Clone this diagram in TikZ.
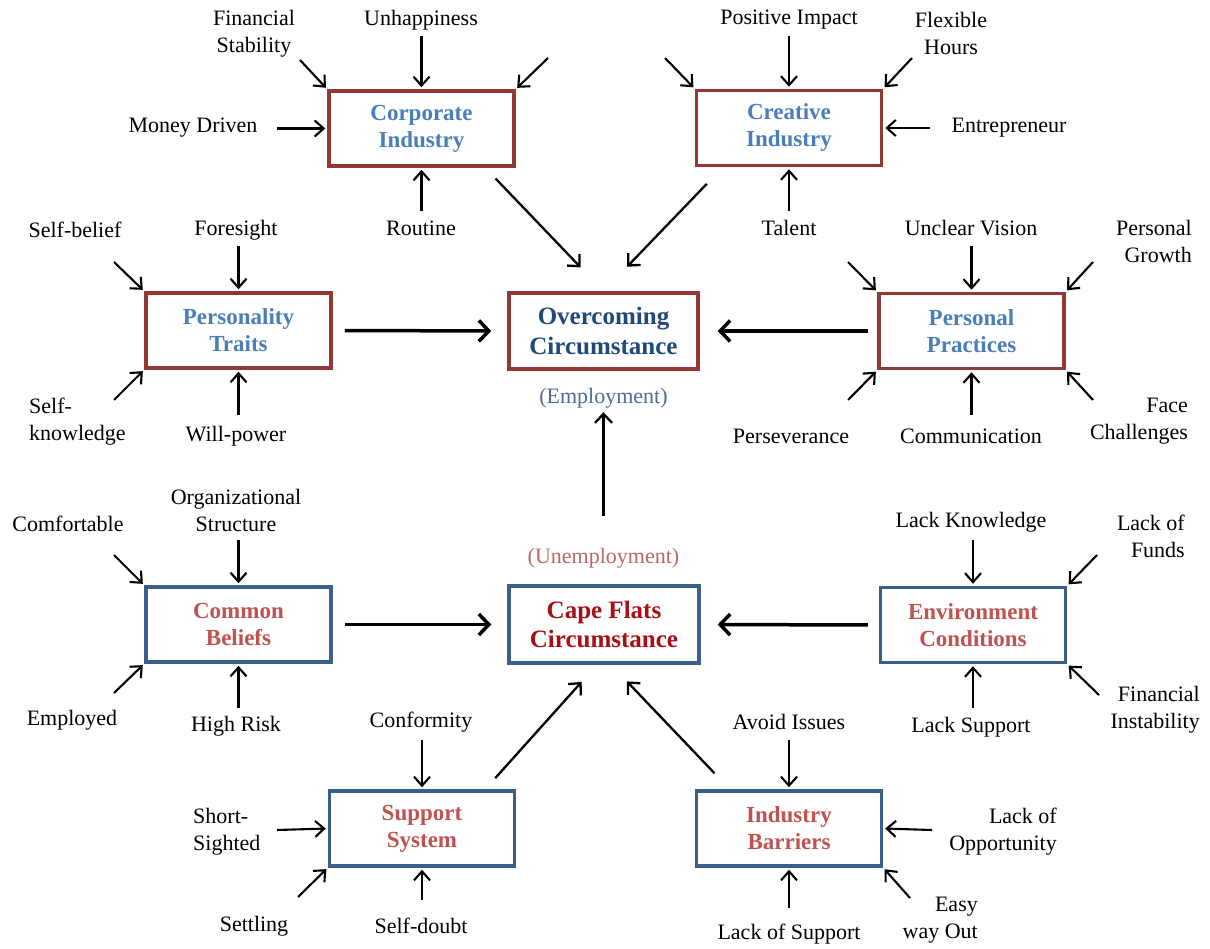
\documentclass[tikz,border=0pt]{standalone}
\usepackage{fontspec}
\setmainfont{Liberation Serif}
\usetikzlibrary{arrows.meta,calc}

\definecolor{topborder}{RGB}{149,55,53}
\definecolor{toptext}{RGB}{74,126,187}
\definecolor{botborder}{RGB}{60,94,138}
\definecolor{bottext}{RGB}{192,82,80}
\definecolor{overtext}{RGB}{31,73,125}
\definecolor{capetext}{RGB}{168,14,20}
\definecolor{emptext}{RGB}{78,108,150}
\definecolor{unemptext}{RGB}{188,104,104}

\newcommand\lblfont{\fontsize{22}{27}\selectfont}
\newcommand\boxfont{\fontsize{23}{27}\selectfont}
\newcommand\bigfont{\fontsize{25}{29.5}\selectfont}

\tikzset{
  lbl/.style={inner sep=0pt, font=\lblfont, align=center},
  boxbase/.style={line width=3.5pt, minimum width=185pt, minimum height=75pt,
    inner sep=0pt, align=center, font=\boxfont\bfseries},
  topbox/.style={boxbase, draw=topborder, text=toptext},
  botbox/.style={boxbase, draw=botborder, text=bottext},
  pa/.style={line width=2.1pt, -{Straight Barb[length=9pt,width=16pt,line width=2.1pt]}, shorten >=2pt},
  ma/.style={line width=3.5pt, -{Straight Barb[length=10pt,width=21pt,line width=3.5pt]}},
  da/.style={line width=2.3pt, -{Straight Barb[length=9pt,width=17pt,line width=2.3pt]}}
}

\begin{document}
\begin{tikzpicture}[x=1pt,y=-1pt]
\useasboundingbox[fill=white] (0,0) rectangle (1210,949);

% ---------- central boxes ----------
\node[boxbase, draw=topborder, text=overtext, font=\bigfont\bfseries,
      minimum width=189pt, minimum height=76pt] (oc) at (603.5,331) {Overcoming\\Circumstance};
\node[lbl, text=emptext] (emp) at (603.5,398) {(Employment)};
\node[boxbase, draw=botborder, text=capetext, font=\bigfont\bfseries,
      minimum width=190pt, minimum height=77pt] (cf) at (604,624.5) {Cape Flats\\Circumstance};
\node[lbl, text=unemptext] (unemp) at (603.5,558) {(Unemployment)};

% ---------- surrounding boxes ----------
\node[topbox] (ci) at (421.5,128.5) {Corporate\\Industry};
\node[topbox] (cr) at (789,128) {Creative\\Industry};
\node[topbox] (pt) at (238.5,330.5) {Personality\\Traits};
\node[topbox] (pp) at (971.5,331) {Personal\\Practices};
\node[botbox] (cb) at (238.5,624.5) {Common\\Beliefs};
\node[botbox] (ec) at (973,625) {Environment\\Conditions};
\node[botbox] (ss) at (422,828.5) {Support\\System};
\node[botbox] (ib) at (789,828.5) {Industry\\Barriers};

% ---------- links between the boxes ----------
\draw[ma, shorten <=12pt, shorten >=16pt] (pt.east) -- (oc.west);
\draw[ma, shorten <=9pt, shorten >=18pt] (pp.west) -- (oc.east);
\draw[ma, shorten <=12pt, shorten >=16pt] (cb.east) -- (cf.west);
\draw[ma, shorten <=11pt, shorten >=17pt] (ec.west) -- (cf.east);
\draw[da, shorten <=15pt, shorten >=33pt] ($(ci.south west)+(158,0)$) -- (oc.north);
\draw[da, shorten <=23pt, shorten >=34pt] ($(cr.south west)+(28,0)$) -- (oc.north);
\draw[da, shorten <=15pt, shorten >=23pt] ($(ss.north east)+(-31,0)$) -- ($(cf.south)+(-7,0)$);
\draw[da, shorten <=22pt, shorten >=23pt] ($(ib.north west)+(35,0)$) -- ($(cf.south)+(7,0)$);
\draw[da, shorten <=32pt, shorten >=4pt] (unemp.north) -- (emp.south);

% ---------- Corporate Industry ----------
\node[lbl] (fs) at (254,33.5) {Financial\\Stability};
\node[lbl] (unh) at (421,20) {Unhappiness};
\node[lbl] (md) at (193,128) {Money Driven};
\node[lbl] (rt) at (421,228) {Routine};
\coordinate (fs-t) at (300,60);
\coordinate (unh-t) at (421.5,36);
\coordinate (ci-ur) at (548,58);
\coordinate (md-t) at (277,128.5);
\coordinate (rt-t) at (421.5,211);
\draw[pa] (fs-t) -- (ci.north west);
\draw[pa] (unh-t) -- (ci.north);
\draw[pa] (ci-ur) -- (ci.north east);
\draw[pa] (md-t) -- (ci.west);
\draw[pa] (rt-t) -- (ci.south);

% ---------- Creative Industry ----------
\node[lbl] (pi) at (789,20) {Positive Impact};
\node[lbl] (fh) at (951,33.5) {Flexible\\Hours};
\node[lbl] (en) at (1009,128) {Entrepreneur};
\node[lbl] (ta) at (789,228) {Talent};
\coordinate (cr-ul) at (665,58);
\coordinate (pi-t) at (789,36);
\coordinate (fh-t) at (912,58);
\coordinate (en-t) at (930,128);
\coordinate (ta-t) at (789,211);
\draw[pa] (cr-ul) -- (cr.north west);
\draw[pa] (pi-t) -- (cr.north);
\draw[pa] (fh-t) -- (cr.north east);
\draw[pa] (en-t) -- (cr.east);
\draw[pa] (ta-t) -- (cr.south);

% ---------- Personality Traits ----------
\node[lbl] (sb) at (75,230) {Self-belief};
\node[lbl] (fo) at (236,230) {Foresight};
\node[lbl, anchor=west, align=left] (sk) at (29,421.5) {Self-\\knowledge};
\node[lbl] (wp) at (236,436) {Will-power};
\coordinate (sb-t) at (114,262);
\coordinate (fo-t) at (238.5,246);
\coordinate (sk-t) at (114,400);
\coordinate (wp-t) at (238.5,415);
\draw[pa] (sb-t) -- (pt.north west);
\draw[pa] (fo-t) -- (pt.north);
\draw[pa] (sk-t) -- (pt.south west);
\draw[pa] (wp-t) -- (pt.south);

% ---------- Personal Practices ----------
\node[lbl] (uv) at (971,228) {Unclear Vision};
\node[lbl, anchor=east, align=right] (pg) at (1192,241.5) {Personal\\Growth};
\node[lbl] (ps) at (791,436) {Perseverance};
\node[lbl] (cm) at (971,436) {Communication};
\node[lbl, anchor=east, align=right] (fc) at (1188,421.5) {Face\\Challenges};
\coordinate (pp-ul) at (848,262);
\coordinate (uv-t) at (971.5,246);
\coordinate (pg-t) at (1093,262);
\coordinate (ps-t) at (848,400);
\coordinate (cm-t) at (971.5,415);
\coordinate (fc-t) at (1093,400);
\draw[pa] (pp-ul) -- (pp.north west);
\draw[pa] (uv-t) -- (pp.north);
\draw[pa] (pg-t) -- (pp.north east);
\draw[pa] (ps-t) -- (pp.south west);
\draw[pa] (cm-t) -- (pp.south);
\draw[pa] (fc-t) -- (pp.south east);

% ---------- Common Beliefs ----------
\node[lbl] (cft) at (68,524) {Comfortable};
\node[lbl] (os) at (236,510) {Organizational\\Structure};
\node[lbl] (em) at (72,720) {Employed};
\node[lbl] (hr) at (236,726) {High Risk};
\coordinate (cft-t) at (114,555);
\coordinate (os-t) at (238.5,540);
\coordinate (em-t) at (114,693);
\coordinate (hr-t) at (238.5,708);
\draw[pa] (cft-t) -- (cb.north west);
\draw[pa] (os-t) -- (cb.north);
\draw[pa] (em-t) -- (cb.south west);
\draw[pa] (hr-t) -- (cb.south);

% ---------- Environment Conditions ----------
\node[lbl] (lk) at (971,522) {Lack Knowledge};
\node[lbl, anchor=east, align=right] (lf) at (1185,536) {Lack of\\Funds};
\node[lbl] (lsp) at (971,727) {Lack Support};
\node[lbl, anchor=east, align=right] (fi) at (1200,710) {Financial\\Instability};
\coordinate (lk-t) at (973,540);
\coordinate (lf-t) at (1097,555);
\coordinate (lsp-t) at (973,708);
\coordinate (fi-t) at (1099,695);
\draw[pa] (lk-t) -- (ec.north);
\draw[pa] (lf-t) -- (ec.north east);
\draw[pa] (lsp-t) -- (ec.south);
\draw[pa] (fi-t) -- (ec.south east);

% ---------- Support System ----------
\node[lbl] (cn) at (421,722) {Conformity};
\node[lbl, anchor=west, align=left] (sh) at (193,832) {Short-\\Sighted};
\node[lbl] (se) at (254,926) {Settling};
\node[lbl] (sd) at (421,926) {Self-doubt};
\coordinate (cn-t) at (422,740);
\coordinate (sh-t) at (277,830);
\coordinate (se-t) at (298,897);
\coordinate (sd-t) at (422,900);
\draw[pa] (cn-t) -- (ss.north);
\draw[pa] (sh-t) -- (ss.west);
\draw[pa] (se-t) -- (ss.south west);
\draw[pa] (sd-t) -- (ss.south);

% ---------- Industry Barriers ----------
\node[lbl] (ai) at (789,722) {Avoid Issues};
\node[lbl, anchor=east, align=right] (lo) at (1057,832) {Lack of\\Opportunity};
\node[lbl] (los) at (789,934) {Lack of Support};
\node[lbl, anchor=east, align=right] (ew) at (978,920) {Easy\\way Out};
\coordinate (ai-t) at (789,740);
\coordinate (lo-t) at (932,830);
\coordinate (los-t) at (789,908);
\coordinate (ew-t) at (910,898);
\draw[pa] (ai-t) -- (ib.north);
\draw[pa] (lo-t) -- (ib.east);
\draw[pa] (los-t) -- (ib.south);
\draw[pa] (ew-t) -- (ib.south east);
\end{tikzpicture}
\end{document}
